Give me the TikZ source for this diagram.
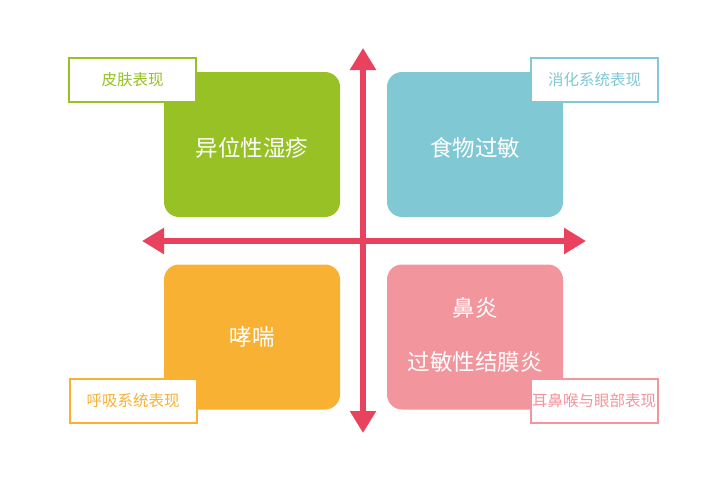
\documentclass[tikz,border=0pt]{standalone}
\usepackage{fontspec}
\newfontfamily\cjk{Noto Sans CJK SC}
\usetikzlibrary{arrows.meta}
\definecolor{axisred}{HTML}{E8425E}
\definecolor{skingreen}{HTML}{97C125}
\definecolor{gutblue}{HTML}{7FC8D4}
\definecolor{lungorange}{HTML}{F8B133}
\definecolor{nosepink}{HTML}{F2959D}
\begin{document}
\begin{tikzpicture}[x=1pt,y=-1pt]
\tikzstyle{every node}+=[inner sep=0pt]
\tikzstyle{quad}=[rounded corners=15pt, minimum width=176pt, minimum height=145pt, text=white, font=\cjk\fontsize{22.5}{27}\selectfont, align=center]
\tikzstyle{tag}=[fill=white, line width=2pt, minimum width=127pt, minimum height=44pt, font=\cjk\fontsize{15.5}{18}\selectfont]
\useasboundingbox (0,0) rectangle (727,482);
% quadrants
\node (eczema) [quad, fill=skingreen, text height=26pt] at (252,144.5) {异位性湿疹};
\node (food) [quad, fill=gutblue, text height=26pt] at (475,144.5) {食物过敏};
\node (asthma) [quad, fill=lungorange] at (252,337) {哮喘};
\node (rhinitis) [quad, fill=nosepink, text depth=6pt] at (475,337) {鼻炎\\[27pt]过敏性结膜炎};
% tags
\node (skin) [tag, draw=skingreen, text=skingreen] at (132.5,80) {皮肤表现};
\node (gut) [tag, draw=gutblue, text=gutblue] at (594.5,80) {消化系统表现};
\node (lung) [tag, draw=lungorange, text=lungorange] at (133,400.5) {呼吸系统表现};
\node (ent) [tag, draw=nosepink, text=nosepink] at (594,400.5) {耳鼻喉与眼部表现};
% axes
\coordinate (west) at (142,241);
\coordinate (east) at (586,241);
\coordinate (north) at (363,48);
\coordinate (south) at (363,433);
\draw [axisred, line width=6pt, {Triangle[length=22pt,width=25pt]}-{Triangle[length=22pt,width=25pt]}] (west) -- (east);
\draw [axisred, line width=6pt, {Triangle[length=22pt,width=25pt]}-{Triangle[length=22pt,width=25pt]}] (north) -- (south);
\end{tikzpicture}
\end{document}
